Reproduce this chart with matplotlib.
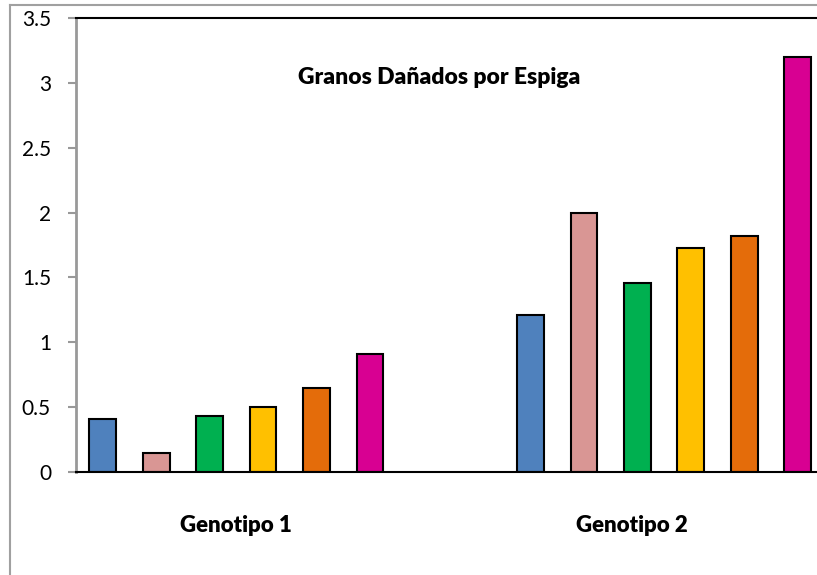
import matplotlib.pyplot as plt
import numpy as np
from matplotlib.lines import Line2D

# values
genotipos = ["Genotipo 1", "Genotipo 2"]
genotipo1 = [0.41, 0.15, 0.43, 0.50, 0.65, 0.91]
genotipo2 = [1.21, 2.00, 1.46, 1.73, 1.82, 3.20]
colores = ["#4F81BD", "#D99694", "#00B050", "#FFC000", "#E46C0A", "#D80092"]
yticks = [0, 0.5, 1, 1.5, 2, 2.5, 3, 3.5]
ytick_labels = ["0", "0.5", "1", "1.5", "2", "2.5", "3", "3.5"]

plt.rcParams['font.family'] = ['Lato', 'DejaVu Sans']

W, H = 817, 575
fig = plt.figure(figsize=(W / 100, H / 100), dpi=100)
ax = fig.add_axes([76 / W, (H - 472) / H, (W - 76) / W, (472 - 18) / H])

x1 = np.arange(6)
x2 = np.arange(6) + 8
ax.bar(x1, genotipo1, width=0.5, color=colores, edgecolor="black", linewidth=1.5)
ax.bar(x2, genotipo2, width=0.5, color=colores, edgecolor="black", linewidth=1.5)

ax.set_xlim(-0.5, 13.36)
ax.set_ylim(0, 3.5)
ax.set_yticks(yticks)
ax.set_yticklabels(ytick_labels, fontsize=15)
ax.set_xticks([])
ax.tick_params(axis="y", direction="out", length=6, width=1.5, color="#999999", pad=12)

ax.spines["right"].set_visible(False)
ax.spines["left"].set_color("#999999")
ax.spines["left"].set_linewidth(2)
ax.spines["top"].set_color("black")
ax.spines["top"].set_linewidth(1.5)
ax.spines["bottom"].set_color("black")
ax.spines["bottom"].set_linewidth(1.5)

# category labels under the axis
for xc, lab in zip([2.5, 9.9], genotipos):
    ax.text(xc, -0.41, lab, ha="center", va="center", fontsize=16, fontweight="heavy")

ax.text(6.3, 3.04, "Granos Dañados por Espiga", ha="center", va="center",
        fontsize=16.5, fontweight="heavy")

# outer chart frame (cropped on right/bottom)
fig.add_artist(Line2D([10 / W, 10 / W], [0, (H - 5) / H], color="#A0A0A0", lw=1.5,
                      transform=fig.transFigure))
fig.add_artist(Line2D([10 / W, 1], [(H - 5) / H, (H - 5) / H], color="#A0A0A0", lw=1.5,
                      transform=fig.transFigure))

fig.savefig("out.png", dpi=100)
